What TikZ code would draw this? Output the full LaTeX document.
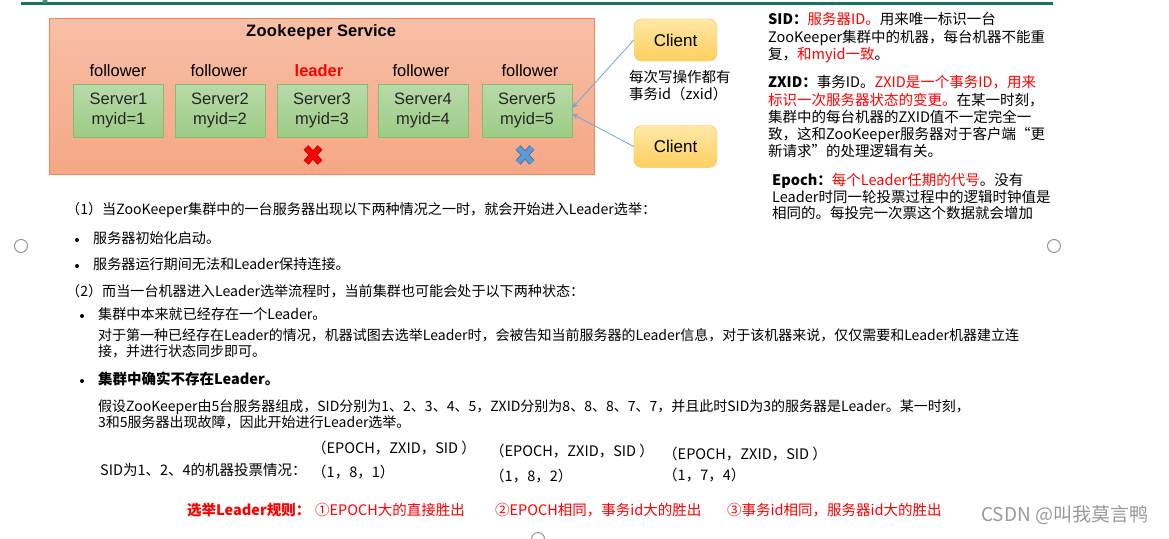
\documentclass[tikz,border=0pt]{standalone}
\usepackage{fontspec}
\setmainfont{Liberation Sans}
\newfontfamily\cjk{Noto Sans CJK SC}
\usetikzlibrary{arrows.meta}
\definecolor{orfillA}{HTML}{F7BFA6}
\definecolor{orfillB}{HTML}{F5A786}
\definecolor{ordraw}{HTML}{F08A52}
\definecolor{grfillA}{HTML}{B8DBA9}
\definecolor{grfillB}{HTML}{9DCB86}
\definecolor{grdraw}{HTML}{86BC70}
\definecolor{clfillA}{HTML}{FFE8A6}
\definecolor{clfillB}{HTML}{FFCF5E}
\definecolor{cldraw}{HTML}{F4BE4E}
\definecolor{arrowblue}{HTML}{74A3DA}
\definecolor{topgreen}{HTML}{12745A}
\definecolor{handlegray}{HTML}{8C8C8C}
\definecolor{xblue}{HTML}{5B9BD5}
\definecolor{xbluedark}{HTML}{3F6FA0}
\definecolor{xreddark}{HTML}{9A1010}
\definecolor{wmgray}{HTML}{999999}
\tikzset{
  sv/.style={draw=grdraw, top color=grfillA, bottom color=grfillB, minimum width=90pt,
    minimum height=53pt, inner sep=0pt, align=center, text=black!85,
    font=\fontsize{16.5}{20}\selectfont},
  role/.style={inner sep=0pt, font=\fontsize{16.5}{20}\selectfont},
  client/.style={draw=cldraw, top color=clfillA, bottom color=clfillB, rounded corners=8pt,
    minimum width=83pt, minimum height=42pt, inner sep=0pt, font=\fontsize{17}{20}\selectfont},
  cn/.style={inner sep=0pt, anchor=west, text height=11pt, text depth=3.5pt,
    font=\cjk\fontsize{14.5}{17}\selectfont},
  cns/.style={cn, font=\cjk\fontsize{14.1}{17}\selectfont},
  cnt/.style={cn, font=\cjk\fontsize{14}{17}\selectfont},
  bul/.style={circle, fill=black, inner sep=0pt, minimum size=4pt},
  arrowline/.style={draw=arrowblue, line width=0.8pt, -{Stealth[length=6pt,width=5pt]}},
  handle/.style={draw=handlegray, line width=0.9pt},
}
\begin{document}
\begin{tikzpicture}[x=1pt,y=-1pt]
\useasboundingbox[fill=white] (0,0) rectangle (1169,538);

% top rule
\draw[topgreen, line width=3.6pt] (21,3.6) -- (1053,3.6);
\fill[topgreen!80] (45,1) circle (2.5);

% selection handles
\draw[handle] (21,246) circle (6.5);
\draw[handle] (1054,246) circle (6.5);
\draw[handle] (538,539) circle (6.5);

% service box
\node (svc) [draw=ordraw, top color=orfillA, bottom color=orfillB, minimum width=545pt,
  minimum height=156pt, inner sep=0pt] at (321.5,96) {};
\node (title) [inner sep=0pt, font=\bfseries\fontsize{16.5}{20}\selectfont] at (321,32)
  {Z\kern0.4pt o\kern0.4pt o\kern0.4pt k\kern0.4pt e\kern0.4pt e\kern0.4pt p\kern0.4pt e\kern0.4pt r Service};

\node (r1) [role] at (118,71) {follower};
\node (r2) [role] at (219,71) {follower};
\node (r3) [role, text=red, font=\bfseries\fontsize{16.5}{20}\selectfont] at (319,71) {leader};
\node (r4) [role] at (421,71) {follower};
\node (r5) [role] at (530,71) {follower};

\node (s1) [sv] at (118.5,110.5) {Server1\\myid=1};
\node (s2) [sv] at (220,110.5) {Server2\\myid=2};
\node (s3) [sv] at (322,110.5) {Server3\\myid=3};
\node (s4) [sv] at (423,110.5) {Server4\\myid=4};
\node (s5) [sv] at (527,110.5) {Server5\\myid=5};

% failure marks
\begin{scope}[shift={(313,155)}]
  \draw[xreddark, line width=6.6pt] (-7,-7.5) -- (7,7.5) (-7,7.5) -- (7,-7.5);
  \draw[red, line width=5pt] (-7,-7.5) -- (7,7.5) (-7,7.5) -- (7,-7.5);
\end{scope}
\begin{scope}[shift={(525,155)}]
  \draw[xbluedark, line width=6.6pt] (-7,-7.5) -- (7,7.5) (-7,7.5) -- (7,-7.5);
  \draw[xblue, line width=5pt] (-7,-7.5) -- (7,7.5) (-7,7.5) -- (7,-7.5);
\end{scope}

% clients
\node (c1) [client] at (675.5,40) {Client};
\node (c2) [client] at (675.5,146.5) {Client};
\coordinate (t1) at ([yshift=2.5pt]s5.east);
\coordinate (t2) at ([yshift=-3.5pt]s5.east);
\draw[arrowline] (c1.west) -- (t1);
\draw[arrowline] (c2.west) -- (t2);

\node (zx1) [cn] at (629,79) {每次写操作都有};
\node (zx2) [cn] at (629,96) {事务id（zxid）};

% right explanation block
\node (a1) [cn] at (768,21) {{\bfseries SID：}\textcolor{red}{服务器ID。}用来唯一标识一台};
\node (a2) [cn] at (768,39) {ZooKeeper集群中的机器，每台机器不能重};
\node (a3) [cn] at (768,56) {复，\textcolor{red}{和myid一致}。};
\node (a4) [cn] at (768,84) {{\bfseries ZXID：}事务ID。\textcolor{red}{ZXID是一个事务ID，用来}};
\node (a5) [cn] at (768,102) {\textcolor{red}{标识一次服务器状态的变更。}在某一时刻，};
\node (a6) [cn] at (768,119) {集群中的每台机器的ZXID值不一定完全一};
\node (a7) [cn] at (768,136) {致，这和ZooKeeper服务器对于客户端“更};
\node (a8) [cn] at (768,153) {新请求”的处理逻辑有关。};
\node (a9) [cn] at (772,182) {{\bfseries Epoch：}\textcolor{red}{每个Leader任期的代号}。没有};
\node (a10) [cn] at (772,199) {Leader时同一轮投票过程中的逻辑时钟值是};
\node (a11) [cn] at (772,215) {相同的。每投完一次票这个数据就会增加};

% lower text block
\node (b1) [cns] at (66,211) {（1）当ZooKeeper集群中的一台服务器出现以下两种情况之一时，就会开始进入Leader选举：};
\node (d1) [bul] at (77,240) {};
\node (b2) [cns] at (93,240) {服务器初始化启动。};
\node (d2) [bul] at (77,266) {};
\node (b3) [cns] at (93,266) {服务器运行期间无法和Leader保持连接。};
\node (b4) [cns] at (66,293) {（2）而当一台机器进入Leader选举流程时，当前集群也可能会处于以下两种状态：};
\node (d3) [bul] at (82,316) {};
\node (b5) [cns] at (98,316) {集群中本来就已经存在一个Leader。};
\node (b6) [cnt] at (98,337) {对于第一种已经存在Leader的情况，机器试图去选举Leader时，会被告知当前服务器的Leader信息，对于该机器来说，仅仅需要和Leader机器建立连};
\node (b7) [cnt] at (98,353) {接，并进行状态同步即可。};
\node (d4) [bul] at (82,381) {};
\node (b8) [cn, font=\cjk\bfseries\fontsize{14.5}{17}\selectfont] at (98,381) {集群中确实不存在Leader。};
\node (b9) [cnt] at (98,408) {假设ZooKeeper由5台服务器组成，SID分别为1、2、3、4、5，ZXID分别为8、8、8、7、7，并且此时SID为3的服务器是Leader。某一时刻，};
\node (b10) [cnt] at (98,424) {3和5服务器出现故障，因此开始进行Leader选举。};

\node (v0) [cn] at (100,472) {SID为1、2、4的机器投票情况：};
\node (h1) [cn] at (312,450) {（EPOCH，ZXID，SID ）};
\node (v1) [cn] at (312,474) {（1，8，1）};
\node (h2) [cn] at (490,453) {（EPOCH，ZXID，SID ）};
\node (v2) [cn] at (490,478) {（1，8，2）};
\node (h3) [cn] at (663,456) {（EPOCH，ZXID，SID ）};
\node (v3) [cn] at (663,477) {（1，7，4）};

\node (g0) [cn, text=red, font=\cjk\bfseries\fontsize{14.5}{17}\selectfont] at (187,512) {选举Leader规则：};
\node (g1) [cn, text=red] at (315,512) {①EPOCH大的直接胜出};
\node (g2) [cn, text=red] at (495,512) {②EPOCH相同，事务id大的胜出};
\node (g3) [cn, text=red] at (727,512) {③事务id相同，服务器id大的胜出};

\node (wm) [cn, text=wmgray, font=\cjk\fontsize{19}{22}\selectfont] at (981,518) {CSDN @叫我莫言鸭};
\end{tikzpicture}
\end{document}
